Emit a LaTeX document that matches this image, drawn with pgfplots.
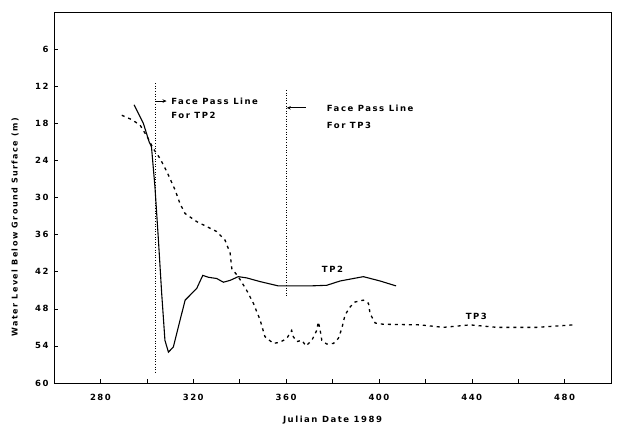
\documentclass[border=0pt]{standalone}
\usepackage{fontspec}
\setmainfont{DejaVu Sans}[LetterSpace=18]
\usepackage{pgfplots}
\pgfplotsset{compat=1.18}
\usetikzlibrary{arrows.meta}
\begin{document}
\begin{tikzpicture}
\begin{axis}[name=ax, scale only axis, width=557pt, height=371pt,
 xmin=260, xmax=500, ymin=0, ymax=60, y dir=reverse,
 xtick={280,320,...,480}, minor xtick={300,340,...,460},
 ytick={6,12,...,60},
 tick align=inside, xtick pos=bottom, ytick pos=left,
 major tick length=4pt, minor tick length=4pt,
 tick style={black, line width=0.5pt},
 axis line style={line width=0.5pt},
 font=\bfseries\fontsize{8.5}{10}\selectfont,
 ticklabel style={font=\bfseries\fontsize{8.5}{10}\selectfont},
 /pgf/number format/assume math mode=true,
 /pgf/number format/1000 sep={},
 xticklabel style={yshift=-8pt},
 yticklabel style={xshift=-2pt},
 xlabel={Julian Date 1989},
 ylabel={Water Level Below Ground Surface (m)},
 xlabel style={at={(axis description cs:0.5,-0.1)}, anchor=center},
 ylabel style={at={(axis description cs:-0.07,0.42)}, anchor=center, font=\bfseries\fontsize{8}{9}\selectfont},
 clip=false,
]
\addplot[black, line width=1.1pt] coordinates {
(294.5,15.0) (298.5,18.0) (301,21) (302,21.8) (303.5,28.3) (305,36.9) (306.4,45.5) (307.8,53.1) (309.3,55.0) (311.4,54.2) (313.6,50.9) (316.5,46.6) (319.4,45.5) (321.5,44.7) (324.1,42.6) (326.5,42.9) (330.1,43.1) (333,43.7) (335.9,43.4) (339.4,42.8) (343,43.0) (348.8,43.6) (356.7,44.3) (360.3,44.3) (370,44.3) (377.5,44.2) (383.3,43.5) (393.3,42.8) (400.5,43.5) (407.4,44.3)
};
\addplot[black, line width=1.3pt, dash pattern=on 3pt off 4pt] coordinates {
(289.2,16.7) (293.5,17.4) (297.1,18.3) (300.2,20.2) (302.8,22.1) (305.7,23.7) (308.6,25.8) (312.2,28.8) (314.3,31.0) (316.5,32.6) (321.5,33.9) (325.8,34.7) (330.1,35.5) (333.7,36.9) (335.9,39.0) (336.6,41.5) (339.4,42.8) (343,45.0) (345.9,47.1) (348.8,49.8) (350.9,52.5) (354.5,53.6) (357.4,53.4) (360.3,52.8) (362.4,51.5) (363.1,52.5) (364.6,53.3) (366.8,53.1) (368.6,54.0) (371.1,53.1) (373.2,51.5) (373.9,50.1) (374.7,51.5) (375.4,53.1) (377.5,53.7) (380.4,53.6) (382.5,52.8) (384,51.2) (385.4,49.0) (387.6,47.7) (389.7,46.9) (393.3,46.6) (395.5,47.1) (396.2,48.8) (398.4,50.3) (401.9,50.5) (417.8,50.6) (427.8,51.0) (439.3,50.6) (450.8,51.0) (468,51.0) (483.8,50.6)
};
\addplot[black, line width=0.6pt, dotted] coordinates {(303.8,11.5) (303.8,58.5)};
\addplot[black, line width=0.6pt, dotted] coordinates {(360.3,12.6) (360.3,46.1)};
\draw[black, line width=0.9pt, -{Stealth[length=4pt,width=3.5pt]}] (axis cs:303.8,14.4) -- (axis cs:308.5,14.4);
\node[anchor=west, inner sep=0pt] at (axis cs:310.5,14.4) {Face Pass Line};
\node[anchor=west, inner sep=0pt] at (axis cs:310.5,16.8) {For TP2};
\draw[black, line width=0.9pt, {Stealth[length=4pt,width=3.5pt]}-] (axis cs:360.3,15.5) -- (axis cs:368.5,15.5);
\node[anchor=west, inner sep=0pt] at (axis cs:377.5,15.5) {Face Pass Line};
\node[anchor=west, inner sep=0pt] at (axis cs:377.5,18.3) {For TP3};
\node[anchor=center] at (axis cs:380,41.6) {TP2};
\node[anchor=center] at (axis cs:442,49.2) {TP3};
\end{axis}
\pgfresetboundingbox
\path ([xshift=-54pt,yshift=-43pt]ax.south west) rectangle ([xshift=8pt,yshift=12pt]ax.north east);
\end{tikzpicture}
\end{document}
